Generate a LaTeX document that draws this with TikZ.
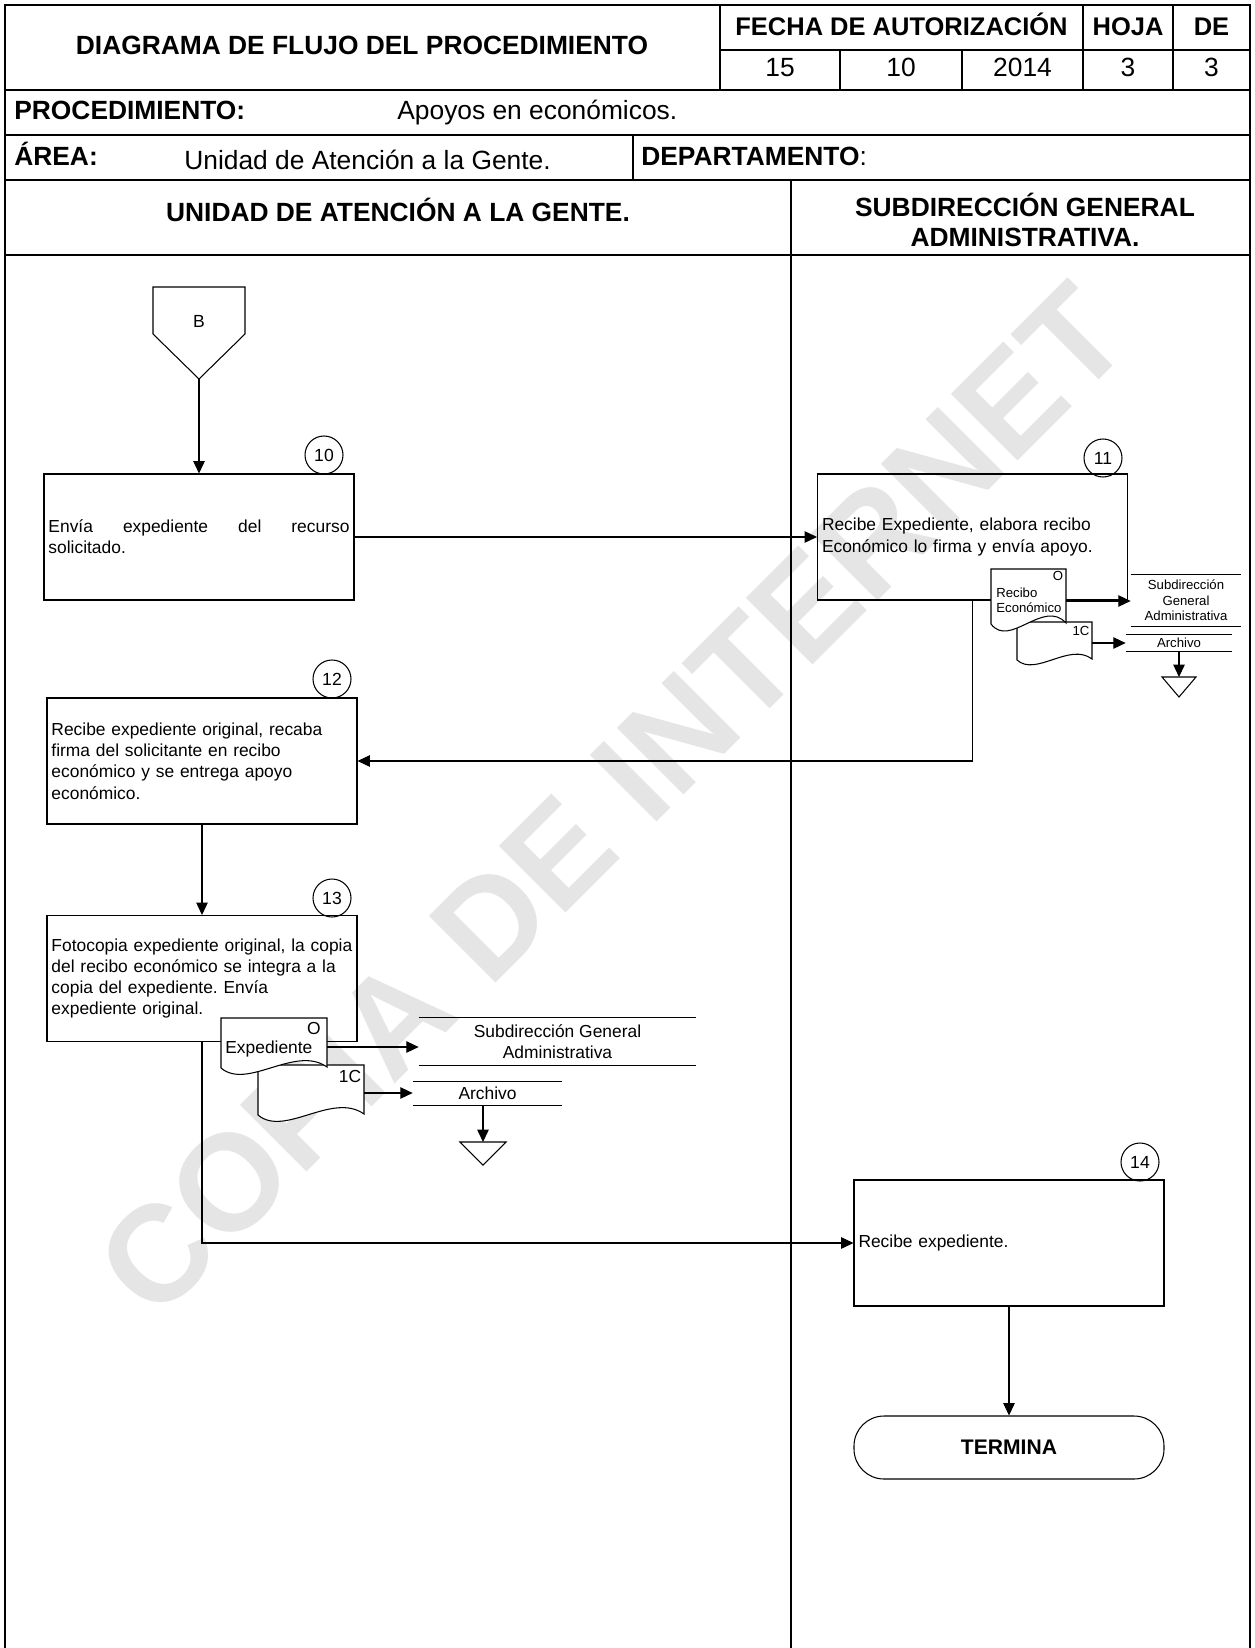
\documentclass[tikz,border=0pt]{standalone}
\usepackage{fontspec}
\setmainfont{Liberation Sans}
\usetikzlibrary{arrows.meta}
\hyphenpenalty=10000
\frenchspacing

% document symbol: x, y (top left), width, height
\newcommand{\docshape}[4]{%
    \filldraw[fill=white,line width=0.6pt] (#1,#2) -- ++(#3,0) -- ++(0,#4-1)
        .. controls +(-0.3*#3,-0.45*#4) and +(0.25*#3,0.45*#4) .. (#1,#2+#4) -- cycle;}

\tikzset{
    frame/.style={line width=1.1pt},
    flow/.style={line width=0.6pt,-{Triangle[length=7pt,width=6.5pt]}},
    proc/.style={draw,line width=0.6pt,minimum width=62mm,minimum height=25.2mm,
        text width=60.2mm,inner xsep=0.9mm,align=left,font=\fontsize{9.9}{12.1}\selectfont},
    stepnum/.style={draw,circle,line width=0.6pt,minimum size=7.6mm,inner sep=0pt,
        font=\fontsize{10}{11}\selectfont},
    dest/.style={inner sep=0pt,align=center,font=\fontsize{9.9}{12.1}\selectfont},
    destsmall/.style={inner sep=0pt,align=center,font=\fontsize{7.5}{8.8}\selectfont},
    hdrbold/.style={inner sep=0pt,font=\fontsize{15}{17.5}\selectfont\bfseries},
    hdr/.style={inner sep=0pt,font=\fontsize{15}{17.5}\selectfont},
    small/.style={inner sep=0pt,font=\fontsize{7.5}{8.5}\selectfont},
}

\begin{document}
\begin{tikzpicture}[x=0.2mm,y=-0.2mm]
    \useasboundingbox (0,0) rectangle (1254,1648);

    % Watermark
    \node[rotate=45,text=black!10,font=\fontsize{78}{78}\selectfont\bfseries] (marca) at (612,800) {COPIA DE INTERNET};

    % Header frame
    \draw[frame] (5,1648) -- (5,5) -- (1250,5) -- (1250,1648);
    \draw[frame] (720,50) -- (1250,50);
    \draw[frame] (5,90) -- (1250,90);
    \draw[frame] (5,135) -- (1250,135);
    \draw[frame] (5,180) -- (1250,180);
    \draw[frame] (5,255) -- (1250,255);
    \draw[frame] (720,5) -- (720,90);
    \draw[frame] (840,50) -- (840,90);
    \draw[frame] (962,50) -- (962,90);
    \draw[frame] (1083,5) -- (1083,90);
    \draw[frame] (1173,5) -- (1173,90);
    \draw[frame] (633,135) -- (633,180);
    \draw[frame] (791,180) -- (791,1648);

    % Header texts
    \node[hdrbold,anchor=base] (titulo) at (362,55) {DIAGRAMA DE FLUJO DEL PROCEDIMIENTO};
    \node[hdrbold,anchor=base,font=\fontsize{14.5}{17}\selectfont\bfseries] (fecha) at (901.5,36) {FECHA DE AUTORIZACIÓN};
    \node[hdrbold,anchor=base,font=\fontsize{14.5}{17}\selectfont\bfseries] (hoja) at (1128,36) {HOJA};
    \node[hdrbold,anchor=base,font=\fontsize{14.5}{17}\selectfont\bfseries] (de) at (1211.5,36) {DE};
    \node[hdr,anchor=base] (dia) at (780,77) {15};
    \node[hdr,anchor=base] (mes) at (901,77) {10};
    \node[hdr,anchor=base] (anio) at (1022.5,77) {2014};
    \node[hdr,anchor=base] (hojanum) at (1128,77) {3};
    \node[hdr,anchor=base] (denum) at (1211.5,77) {3};
    \node[hdrbold,anchor=base west] (procedimiento) at (14,120) {PROCEDIMIENTO:};
    \node[hdr,anchor=base west] (apoyos) at (397,120) {Apoyos en económicos.};
    \node[hdrbold,anchor=base west] (area) at (14,166) {ÁREA:};
    \node[hdr,anchor=base west] (unidad) at (184,170) {Unidad de Atención a la Gente.};
    \node[hdrbold,anchor=base west] (depto) at (641,166) {DEPARTAMENTO\mdseries:};

    % Lanes
    \node[hdrbold,anchor=base] (laneuag) at (398,222) {UNIDAD DE ATENCIÓN A LA GENTE.};
    \node[hdrbold,align=center] (lanesga) at (1025,220) {SUBDIRECCIÓN GENERAL\\ADMINISTRATIVA.};

    % Connector B
    \draw[line width=0.6pt] (153,287) -- (245,287) -- (245,334) -- (199,379) -- (153,334) -- cycle;
    \node[font=\fontsize{10}{12}\selectfont] (conB) at (199,321) {B};
    \coordinate (conBtip) at (199,379);

    % Activities
    \node[proc,align=justify] (b10) at (199,537) {Envía expediente del recurso solicitado.};
    \node[proc] (b11) at (972.5,537) {Recibe Expediente, elabora recibo\\Económico lo firma y envía apoyo.};
    \node[proc] (b12) at (202,761) {Recibe expediente original, recaba\\firma del solicitante en recibo\\económico y se entrega apoyo\\económico.};
    \node[proc] (b13) at (202,978.5) {Fotocopia expediente original, la copia\\del recibo económico se integra a la\\copia del expediente. Envía\\expediente original.};
    \node[proc] (b14) at (1009,1243) {Recibe expediente.};
    \node[draw,line width=0.6pt,rounded corners=6mm,minimum width=62mm,minimum height=12.6mm,
        font=\fontsize{12}{14}\selectfont\bfseries] (fin) at (1009,1447.5) {TERMINA};

    % Step numbers
    \node[stepnum] (n10) at (324,455) {10};
    \node[stepnum] (n11) at (1103,458) {11};
    \node[stepnum] (n12) at (332,679) {12};
    \node[stepnum] (n13) at (332,898) {13};
    \node[stepnum] (n14) at (1140,1162) {14};

    % Flow
    \draw[flow] (conBtip) -- (b10.north);
    \draw[flow] (b10.east) -- (b11.west);
    \draw[flow] (b11.south) |- (b12.east);
    \draw[flow] (b12.south) -- (b13.north);
    \draw[flow] (b13.south) |- (b14.west);
    \draw[flow] (b14.south) -- (fin.north);

    % Documents of step 11
    \docshape{1017}{622}{75}{38}
    \docshape{991}{569}{75}{55}
    \node[small,align=left,anchor=west] (recibo) at (996,600.5) {Recibo\\Económico};
    \node[small] (reciboO) at (1058,576) {O};
    \node[small] (recibo1C) at (1081,631) {1C};
    \coordinate (reciboR) at (1066,601);
    \coordinate (recibo1CR) at (1092,643);
    \node[destsmall,minimum width=22mm,minimum height=10.2mm] (dest2) at (1186,600.5) {Subdirección\\General\\Administrativa};
    \draw[line width=0.6pt] (dest2.north west) -- (dest2.north east) (dest2.south west) -- (dest2.south east);
    \node[destsmall,minimum width=21.2mm,minimum height=3.2mm] (arch2) at (1179,643) {Archivo};
    \draw[line width=0.6pt] (arch2.north west) -- (arch2.north east) (arch2.south west) -- (arch2.south east);
    \draw[line width=0.6pt] (1162,677) -- (1196,677) -- (1179,697) -- cycle;
    \coordinate (tri2) at (1179,677);
    \draw[flow] (reciboR) -- (reciboR -| dest2.west);
    \draw[flow] (recibo1CR) -- (recibo1CR -| arch2.west);
    \draw[flow] (arch2.south) -- (tri2);

    % Documents of step 13
    \docshape{258}{1065}{106}{50}
    \docshape{221}{1018}{106}{50}
    \node[dest,anchor=west] (expediente) at (225,1049) {Expediente};
    \node[dest] (expedienteO) at (314,1028) {O};
    \node[dest] (expediente1C) at (350,1076) {1C};
    \coordinate (expedienteR) at (327,1047);
    \coordinate (expediente1CR) at (364,1093);
    \node[dest,minimum width=55.4mm,minimum height=9.4mm] (dest1) at (557.5,1041.5) {Subdirección General\\Administrativa};
    \draw[line width=0.6pt] (dest1.north west) -- (dest1.north east) (dest1.south west) -- (dest1.south east);
    \node[dest,minimum width=29.8mm,minimum height=4.6mm] (arch1) at (487.5,1093.5) {Archivo};
    \draw[line width=0.6pt] (arch1.north west) -- (arch1.north east) (arch1.south west) -- (arch1.south east);
    \draw[line width=0.6pt] (460,1142) -- (506,1142) -- (483,1165) -- cycle;
    \coordinate (tri1) at (483,1142);
    \draw[flow] (expedienteR) -- (expedienteR -| dest1.west);
    \draw[flow] (expediente1CR) -- (expediente1CR -| arch1.west);
    \draw[flow] (arch1.south -| tri1) -- (tri1);
\end{tikzpicture}
\end{document}
